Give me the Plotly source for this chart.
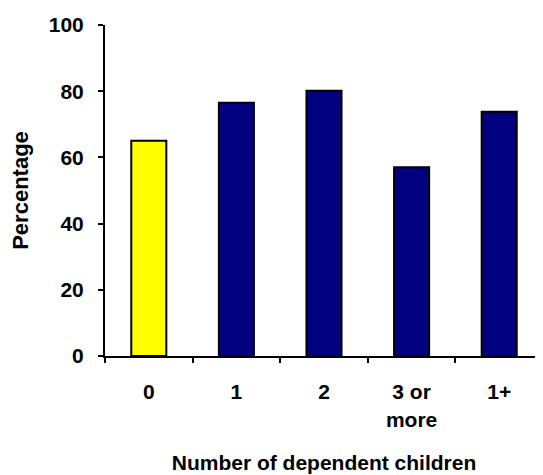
import plotly.graph_objects as go

categories = ["0", "1", "2", "3 or more", "1+"]
tick_labels = ["0", "1", "2", "3 or<br>more", "1+"]
percentages = [65.0, 76.5, 80.1, 57.0, 73.8]
bar_colors = ["#FFFF00", "#000080", "#000080", "#000080", "#000080"]

font_family = "Liberation Sans, Arial, sans-serif"

fig = go.Figure(
    go.Bar(
        x=categories,
        y=percentages,
        marker=dict(color=bar_colors, line=dict(color="black", width=2)),
        width=0.4,
    )
)

fig.update_layout(
    width=535,
    height=467,
    margin=dict(l=97, r=0, t=17, b=119),
    paper_bgcolor="white",
    plot_bgcolor="white",
    showlegend=False,
    font=dict(family=font_family, color="black"),
)

fig.update_xaxes(
    type="category",
    automargin=False,
    tickmode="array",
    tickvals=categories,
    ticktext=tick_labels,
    tickson="boundaries",
    ticks="outside",
    ticklen=5,
    tickwidth=2,
    tickcolor="black",
    ticklabelstandoff=16,
    showline=True,
    linecolor="black",
    linewidth=2,
    showgrid=False,
    tickfont=dict(size=21, weight="bold"),
    title=dict(text="Number of dependent children", font=dict(size=21, weight="bold"), standoff=26),
)

fig.update_yaxes(
    automargin=False,
    range=[0, 100],
    tickvals=[0, 20, 40, 60, 80, 100],
    ticks="outside",
    ticklen=5,
    tickwidth=2,
    tickcolor="black",
    ticklabelstandoff=10,
    showline=True,
    linecolor="black",
    linewidth=2,
    showgrid=False,
    zeroline=False,
    tickfont=dict(size=21, weight="bold"),
    title=dict(text="Percentage", font=dict(size=22, weight="bold"), standoff=16),
)

fig.write_html("out.html")
